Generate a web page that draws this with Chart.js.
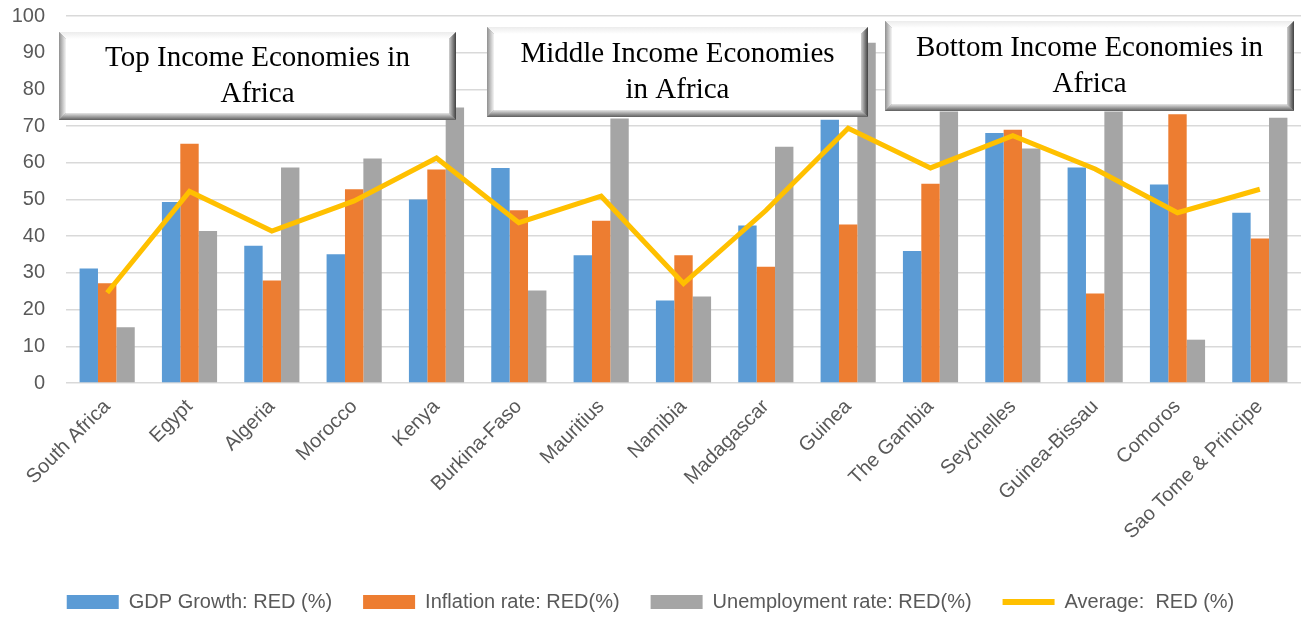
<!DOCTYPE html>
<html>
<head>
<meta charset="utf-8">
<script src="https://cdn.jsdelivr.net/npm/chart.js@4/dist/chart.umd.min.js"></script>
<style>
  html, body { margin: 0; padding: 0; background: #fff; }
  #wrap { width: 1301px; height: 618px; position: relative; }
</style>
</head>
<body>
<div id="wrap"><canvas id="chart"></canvas></div>
<script>
const countries = ['South Africa', 'Egypt', 'Algeria', 'Morocco', 'Kenya', 'Burkina-Faso', 'Mauritius',
  'Namibia', 'Madagascar', 'Guinea', 'The Gambia', 'Seychelles', 'Guinea-Bissau', 'Comoros', 'Sao Tome & Principe'];
const gdpGrowth    = [31.2, 49.3, 37.4, 35.1, 50.0, 58.6, 34.8, 22.5, 42.9, 71.7, 36.0, 68.1, 58.7, 54.1, 46.4];
const inflation    = [27.2, 65.2, 27.9, 52.8, 58.2, 47.1, 44.2, 34.8, 31.7, 43.2, 54.3, 69.0, 24.4, 73.2, 39.4];
const unemployment = [15.2, 41.4, 58.7, 61.2, 75.1, 25.2, 72.1, 23.6, 64.4, 92.7, 74.0, 63.9, 74.0, 11.8, 72.3];
const average      = [24.6, 52.2, 41.4, 49.6, 61.3, 43.7, 50.9, 27.1, 47.0, 69.4, 58.6, 67.4, 58.3, 46.4, 52.8];
const yTicks = [0, 10, 20, 30, 40, 50, 60, 70, 80, 90, 100];

// income group captions, placed in category / value units
const groupBoxes = [
  { lines: ['Top Income Economies in', 'Africa'], x0: -0.58, x1: 4.24, yTop: 95.6, yBot: 71.6 },
  { lines: ['Middle Income Economies', 'in Africa'], x0: 4.61, x1: 9.24, yTop: 97.0, yBot: 72.4 },
  { lines: ['Bottom Income Economies in', 'Africa'], x0: 9.45, x1: 14.42, yTop: 98.6, yBot: 74.0 },
];

const sans = "'Liberation Sans', Arial, sans-serif";
const serif = "'Liberation Serif', 'Times New Roman', serif";

const boxPlugin = {
  id: 'groupBoxes',
  afterDraw(chart) {
    const ctx = chart.ctx;
    const xs = chart.scales.x, ys = chart.scales.y;
    for (const b of groupBoxes) {
      const l = Math.round(xs.getPixelForValue(b.x0)), r = Math.round(xs.getPixelForValue(b.x1));
      const t = Math.round(ys.getPixelForValue(b.yTop)), btm = Math.round(ys.getPixelForValue(b.yBot));
      const w = r - l, h = btm - t, bev = 7;
      ctx.save();
      ctx.fillStyle = '#8c8c8c';
      ctx.fillRect(l, t, w, h);
      // top bevel
      let g = ctx.createLinearGradient(0, t, 0, t + bev);
      g.addColorStop(0, '#ececec'); g.addColorStop(1, '#ffffff');
      ctx.fillStyle = g;
      ctx.beginPath(); ctx.moveTo(l, t); ctx.lineTo(r, t); ctx.lineTo(r - bev, t + bev); ctx.lineTo(l + bev, t + bev); ctx.closePath(); ctx.fill();
      // left bevel
      g = ctx.createLinearGradient(l, 0, l + bev, 0);
      g.addColorStop(0, '#8f8f8f'); g.addColorStop(1, '#f5f5f5');
      ctx.fillStyle = g;
      ctx.beginPath(); ctx.moveTo(l, t); ctx.lineTo(l + bev, t + bev); ctx.lineTo(l + bev, btm - bev); ctx.lineTo(l, btm); ctx.closePath(); ctx.fill();
      // right bevel
      g = ctx.createLinearGradient(r - bev, 0, r, 0);
      g.addColorStop(0, '#d0d0d0'); g.addColorStop(1, '#404040');
      ctx.fillStyle = g;
      ctx.beginPath(); ctx.moveTo(r, t); ctx.lineTo(r, btm); ctx.lineTo(r - bev, btm - bev); ctx.lineTo(r - bev, t + bev); ctx.closePath(); ctx.fill();
      // bottom bevel
      g = ctx.createLinearGradient(0, btm - bev, 0, btm);
      g.addColorStop(0, '#e6e6e6'); g.addColorStop(1, '#5e5e5e');
      ctx.fillStyle = g;
      ctx.beginPath(); ctx.moveTo(l, btm); ctx.lineTo(l + bev, btm - bev); ctx.lineTo(r - bev, btm - bev); ctx.lineTo(r, btm); ctx.closePath(); ctx.fill();
      // face
      ctx.fillStyle = '#ffffff';
      ctx.fillRect(l + bev, t + bev, w - 2 * bev, h - 2 * bev);
      // caption
      ctx.fillStyle = '#000000';
      ctx.font = '29px ' + serif;
      ctx.textAlign = 'center';
      ctx.textBaseline = 'middle';
      const cx = (l + r) / 2, cy = (t + btm) / 2, lh = 36;
      b.lines.forEach((line, i) => ctx.fillText(line, cx, cy + (i - (b.lines.length - 1) / 2) * lh));
      ctx.restore();
    }
  }
};

new Chart(document.getElementById('chart'), {
  type: 'bar',
  data: {
    labels: countries,
    datasets: [
      { type: 'line', label: 'Average:  RED (%)', data: average, borderColor: '#FFC000', backgroundColor: '#FFC000',
        borderWidth: 5, pointRadius: 0, tension: 0, order: 0 },
      { label: 'GDP Growth: RED (%)', data: gdpGrowth, backgroundColor: '#5B9BD5', order: 1 },
      { label: 'Inflation rate: RED(%)', data: inflation, backgroundColor: '#ED7D31', order: 1 },
      { label: 'Unemployment rate: RED(%)', data: unemployment, backgroundColor: '#A5A5A5', order: 1 },
    ]
  },
  options: {
    responsive: true,
    maintainAspectRatio: false,
    animation: false,
    layout: { padding: { left: 0, right: 0, top: 0, bottom: -4 } },
    datasets: { bar: { categoryPercentage: 0.67, barPercentage: 1.0 } },
    scales: {
      x: {
        grid: { display: false },
        border: { display: false },
        ticks: { color: '#595959', font: { family: sans, size: 20 }, maxRotation: 45, minRotation: 45, autoSkip: false, padding: 4 },
        afterFit(scale) { scale.height = 178; scale.paddingLeft = 0; scale.paddingRight = 0; }
      },
      y: {
        min: 0, max: 100,
        afterBuildTicks(scale) { scale.ticks = yTicks.map(v => ({ value: v })); },
        afterFit(scale) { scale.width = 66; scale.paddingTop = 16; },
        grid: { color: '#D9D9D9', lineWidth: 1.5, drawTicks: false },
        border: { display: false },
        ticks: { color: '#595959', font: { family: sans, size: 20 }, padding: 21 }
      }
    },
    plugins: {
      legend: {
        position: 'bottom',
        labels: {
          color: '#595959',
          font: { family: sans, size: 20 },
          usePointStyle: true,
          pointStyleWidth: 52,
          boxWidth: 52,
          boxHeight: 14,
          padding: 31,
          sort: (a, b) => (a.datasetIndex === 0 ? 1 : 0) - (b.datasetIndex === 0 ? 1 : 0) || a.datasetIndex - b.datasetIndex,
          generateLabels(chart) {
            const items = Chart.defaults.plugins.legend.labels.generateLabels(chart);
            items.forEach(it => {
              const ds = chart.data.datasets[it.datasetIndex];
              if (ds.type === 'line') {
                it.pointStyle = 'line'; it.lineWidth = 6; it.strokeStyle = '#FFC000';
              } else {
                it.pointStyle = 'rect'; it.lineWidth = 0; it.strokeStyle = ds.backgroundColor;
              }
            });
            return items;
          }
        }
      },
      tooltip: { enabled: false }
    }
  },
  plugins: [boxPlugin]
});
</script>
</body>
</html>
